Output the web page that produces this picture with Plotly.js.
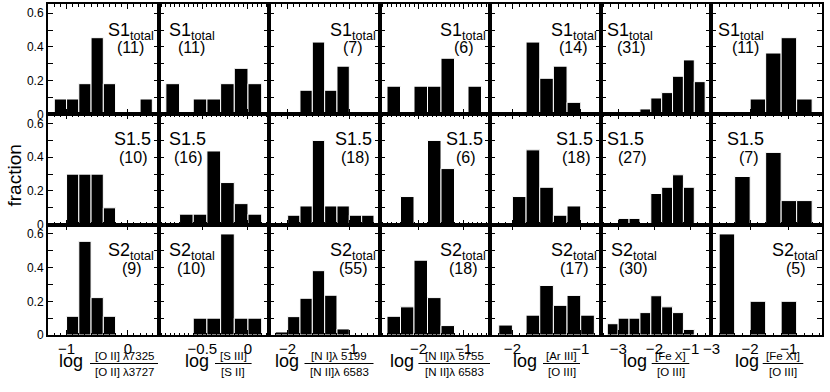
<!DOCTYPE html>
<html>
<head>
<meta charset="utf-8">
<script src="https://cdn.plot.ly/plotly-3.0.1.min.js"></script>
<style>body{margin:0;background:#fff}#plot{width:830px;height:392px}</style>
</head>
<body>
<div id="plot"></div>
<script>
// left bin edges per column (log line ratio) and bin widths
const binsOII  = [-1.2, -1.0, -0.8, -0.6, -0.4, -0.2, 0.0, 0.2];
const binsSIII = [-0.9, -0.75, -0.6, -0.45, -0.3, -0.15, 0.0];
const binsNI   = [-2.2, -2.0, -1.8, -1.6, -1.4, -1.2, -1.0, -0.8];
const binsNII  = [-2.7, -2.4, -2.1, -1.8, -1.5, -1.2, -0.9];
const binsArIII= [-2.2, -2.0, -1.8, -1.6, -1.4, -1.2, -1.0];
const binsFeX  = [-3.3, -3.0, -2.7, -2.4, -2.1, -1.8, -1.5, -1.2, -0.9];
const binsFeXI = [-2.8, -2.4, -2.0, -1.6, -1.2, -0.8];
const binWidth = [0.2, 0.15, 0.2, 0.3, 0.2, 0.3, 0.4];

// fractions, S1 total
const s1OII   = [0.091, 0.091, 0.182, 0.455, 0.182, 0, 0, 0.091];
const s1SIII  = [0.182, 0, 0.091, 0.091, 0.182, 0.273, 0.182];
const s1NI    = [0, 0, 0.143, 0.429, 0.143, 0.286, 0, 0];
const s1NII   = [0.167, 0, 0.167, 0.167, 0.333, 0, 0.167];
const s1ArIII = [0, 0, 0.429, 0.214, 0.286, 0.071, 0];
const s1FeX   = [0, 0, 0, 0.032, 0.097, 0.129, 0.226, 0.323, 0.194];
const s1FeXI  = [0, 0, 0.091, 0.364, 0.455, 0.091];
// S1.5
const s15OII   = [0, 0.3, 0.3, 0.3, 0.1, 0, 0, 0];
const s15SIII  = [0, 0.0625, 0.0625, 0.4375, 0.25, 0.125, 0.0625];
const s15NI    = [0, 0.056, 0.111, 0.5, 0.111, 0.111, 0.056, 0.056];
const s15NII   = [0, 0.167, 0, 0.5, 0.333, 0, 0];
const s15ArIII = [0, 0.167, 0.444, 0.222, 0.056, 0.111, 0];
const s15FeX   = [0, 0.037, 0.037, 0, 0.185, 0.222, 0.296, 0.222, 0];
const s15FeXI  = [0, 0.286, 0, 0.429, 0.143, 0.143];
// S2 total
const s2OII   = [0, 0.111, 0.556, 0.222, 0.111, 0, 0, 0];
const s2SIII  = [0, 0, 0.1, 0.1, 0.6, 0.1, 0.1];
const s2NI    = [0.018, 0.109, 0.218, 0.382, 0.236, 0.036, 0, 0];
const s2NII   = [0.111, 0.167, 0.444, 0.222, 0.056, 0, 0];
const s2ArIII = [0.059, 0, 0.118, 0.294, 0.176, 0.235, 0.118];
const s2FeX   = [0.067, 0.1, 0.1, 0.133, 0.233, 0.167, 0.133, 0.033, 0];
const s2FeXI  = [0.6, 0, 0.2, 0, 0.2, 0];

const groupNames = ["S1<sub>total</sub>", "S1.5", "S2<sub>total</sub>"];
const countS1  = [11, 11, 7, 6, 14, 31, 11];
const countS15 = [10, 16, 18, 6, 18, 27, 7];
const countS2  = [9, 10, 55, 18, 17, 30, 5];

const numerators   = ["[O II] λ7325", "[S III]", "[N I]λ 5199", "[N II]λ 5755", "[Ar III]", "[Fe X]", "[Fe XI]"];
const denominators = ["[O II] λ3727", "[S II]", "[N II]λ 6583", "[N II]λ 6583", "[O III]", "[O III]", "[O III]"];

const xTicks = [[-1, 0], [-0.5, 0], [-2, -1], [-2, -1], [-2, -1], [-3, -2, -1], [-3, -2, -1]];

const bins = [binsOII, binsSIII, binsNI, binsNII, binsArIII, binsFeX, binsFeXI];
const rows = [
    [s1OII, s1SIII, s1NI, s1NII, s1ArIII, s1FeX, s1FeXI],
    [s15OII, s15SIII, s15NI, s15NII, s15ArIII, s15FeX, s15FeXI],
    [s2OII, s2SIII, s2NI, s2NII, s2ArIII, s2FeX, s2FeXI]
];
const counts = [countS1, countS15, countS2];

// page geometry (pixels)
const W = 830, H = 392;
const mL = 48, mR = 8, mT = 4, mB = 57;
const plotW = W - mL - mR, plotH = H - mT - mB;
function px(x){ return (x - mL) / plotW; }
function py(y){ return (H - mB - y) / plotH; }

const xRanges = [[-1.303, 0.502], [-0.98, 0.232], [-2.3, -0.507], [-2.862, -0.405],
                 [-2.324, -0.705], [-3.478, -0.427], [-3.0, -0.145]];
const xMinor = [0.1, 0.05, 0.1, 0.1, 0.1, 0.2, 0.2];

const labelX = [[131, 191.5, 352.5, 462.5, 574, 629.7, 740.8],
                [132.5, 187.2, 353, 464.2, 574.7, 625.8, 745.8],
                [130.8, 191.7, 352.5, 463.3, 574.2, 633.8, 794.7]];
const countX = [[130.5, 191.7, 352.7, 464.3, 573.3, 631, 745],
                [133.3, 188.3, 355, 466.3, 576.3, 631.7, 748.7],
                [131.7, 190.8, 352.5, 463.3, 574.2, 633.3, 795.8]];
const rowTop = [4, 114.3, 224.7];
const labelDy = [27.5, 25, 27];

const logX = [70.5, 196.7, 286.7, 401.7, 525, 635, 746.7];
const fracX = [124, 233.3, 339, 454.2, 561.5, 670.5, 783];
const fracHalf = [34, 18.3, 34.5, 35.8, 18.5, 18.8, 20.3];

const fontFam = "Liberation Sans, Arial, Helvetica, sans-serif";

let data = [];
let layout = {
    width: W, height: H,
    margin: {l: mL, r: mR, t: mT, b: mB},
    showlegend: false,
    paper_bgcolor: "white", plot_bgcolor: "white",
    font: {family: fontFam, color: "black"},
    annotations: [], shapes: []
};

for (let r = 0; r < 3; r++) {
    for (let c = 0; c < 7; c++) {
        const k = r * 7 + c + 1;
        const xs = bins[c].map(e => e + binWidth[c] / 2);
        data.push({type: "bar", x: xs, y: rows[r][c], width: binWidth[c],
                   xaxis: "x" + k, yaxis: "y" + k,
                   marker: {color: "black", line: {color: "white", width: 1}},
                   hoverinfo: "skip"});
        layout["xaxis" + k] = {
            domain: [c / 7, (c + 1) / 7], anchor: "y" + k, range: xRanges[c],
            showline: true, linecolor: "black", linewidth: 2, mirror: "ticks",
            ticks: "inside", ticklen: 5, tickwidth: 1, tickcolor: "black",
            tickmode: "array", tickvals: xTicks[c], showticklabels: r === 2,
            tickfont: {size: 15}, ticklabelstandoff: -1,
            showgrid: false, zeroline: false,
            minor: {tick0: 0, dtick: xMinor[c], ticks: "inside", ticklen: 2.5,
                    tickwidth: 1, tickcolor: "black", showgrid: false}
        };
        layout["yaxis" + k] = {
            domain: [(2 - r) / 3, (3 - r) / 3], anchor: "x" + k, range: [0, 0.655],
            showline: true, linecolor: "black", linewidth: 2, mirror: "ticks",
            ticks: "inside", ticklen: 5, tickwidth: 1, tickcolor: "black",
            tick0: 0, dtick: 0.2, showticklabels: c === 0,
            tickfont: {size: 12}, showgrid: false, zeroline: false,
            minor: {tick0: 0, dtick: 0.1, ticks: "inside", ticklen: 5,
                    tickwidth: 1, tickcolor: "black", showgrid: false}
        };
        layout.annotations.push({
            xref: "paper", yref: "paper", x: px(labelX[r][c]), y: py(rowTop[r] + labelDy[r]),
            xanchor: "center", yanchor: "middle", showarrow: false,
            text: groupNames[r], font: {size: 18}
        });
        layout.annotations.push({
            xref: "paper", yref: "paper", x: px(countX[r][c]), y: py(rowTop[r] + 43.5),
            xanchor: "center", yanchor: "middle", showarrow: false,
            text: "(" + counts[r][c] + ")", font: {size: 16}
        });
    }
}

// x axis labels: log numerator / denominator
for (let c = 0; c < 7; c++) {
    layout.annotations.push({
        xref: "paper", yref: "paper", x: px(logX[c]), y: py(361),
        xanchor: "center", yanchor: "middle", showarrow: false,
        text: "log", font: {size: 18}
    });
    layout.annotations.push({
        xref: "paper", yref: "paper", x: px(fracX[c]), y: py(356),
        xanchor: "center", yanchor: "middle", showarrow: false,
        text: numerators[c], font: {size: 11.5}
    });
    layout.annotations.push({
        xref: "paper", yref: "paper", x: px(fracX[c]), y: py(371.5),
        xanchor: "center", yanchor: "middle", showarrow: false,
        text: denominators[c], font: {size: 11.5}
    });
    layout.shapes.push({
        type: "line", xref: "paper", yref: "paper",
        x0: px(fracX[c] - fracHalf[c]), x1: px(fracX[c] + fracHalf[c]),
        y0: py(363.5), y1: py(363.5),
        line: {color: "black", width: 1}
    });
}

layout.annotations.push({
    xref: "paper", yref: "paper", x: px(13.5), y: py(176),
    xanchor: "center", yanchor: "middle", showarrow: false, textangle: -90,
    text: "fraction", font: {size: 19}
});

Plotly.newPlot("plot", data, layout, {staticPlot: true});
</script>
</body>
</html>
